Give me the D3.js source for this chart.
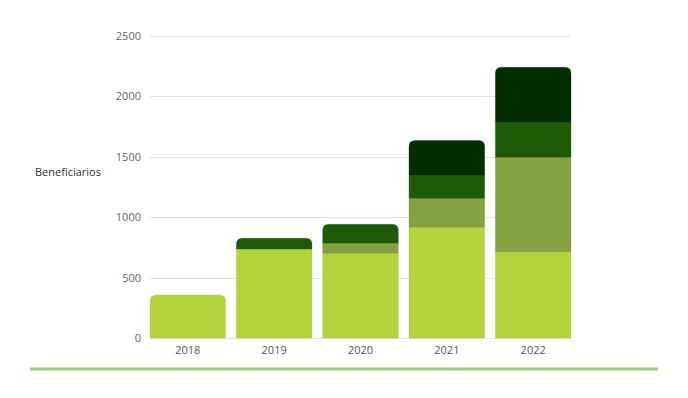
<!DOCTYPE html>
<html><head><meta charset="utf-8">
<script src="https://cdn.jsdelivr.net/npm/d3@7"></script>
<style>body{margin:0;background:#fff}svg{display:block}</style>
</head><body><svg id="c" width="688" height="398"></svg>
<script>
const years = ["2018","2019","2020","2021","2022"];
const serie1 = [356, 737, 701, 916, 714];
const serie2 = [0, 0, 84, 240, 782];
const serie3 = [0, 88, 157, 193, 292];
const serie4 = [0, 0, 0, 285, 453];
const yTicks = [0, 500, 1000, 1500, 2000, 2500];
const colors = ["#b4d33c", "#86a142", "#1f5b06", "#022e00"];
const yLabel = "Beneficiarios";

const svg = d3.select("#c");
const font = "'Open Sans', Lato, sans-serif";
const x = d3.scaleBand().domain(years).range([150, 571]).paddingInner(0.124).paddingOuter(0);
const y = d3.scaleLinear().domain([0, 2500]).range([338, 36]);

// grid
svg.append("g").selectAll("line").data(yTicks).join("line")
  .attr("x1", 150).attr("x2", 571)
  .attr("y1", d => Math.round(y(d)) + 0.5).attr("y2", d => Math.round(y(d)) + 0.5)
  .attr("stroke", "#e3e3e3").attr("stroke-width", 1);

// y axis labels
const yAxis = d3.axisLeft(y).tickValues(yTicks).tickFormat(d3.format("d")).tickSize(0).tickPadding(9);
const ga = svg.append("g").attr("transform", "translate(150,0)").call(yAxis);
ga.select(".domain").remove();
ga.selectAll("text").attr("font-family", font).attr("font-size", 11).attr("fill", "#666");

// x axis labels
const xAxis = d3.axisBottom(x).tickSize(0).tickPadding(8);
const gx = svg.append("g").attr("transform", "translate(0,338)").call(xAxis);
gx.select(".domain").remove();
gx.selectAll("text").attr("font-family", font).attr("font-size", 11).attr("fill", "#555");

// stacks
const data = years.map((yr, i) => ({year: yr, s0: serie1[i], s1: serie2[i], s2: serie3[i], s3: serie4[i]}));
const keys = ["s0","s1","s2","s3"];
const stacked = d3.stack().keys(keys)(data);
const r = 6;
function seg(x0, w, yTop, yBot, rounded) {
  if (!rounded) return `M${x0},${yBot}V${yTop}H${x0+w}V${yBot}Z`;
  const rr = Math.min(r, (yBot - yTop));
  return `M${x0},${yBot}V${yTop+rr}Q${x0},${yTop} ${x0+rr},${yTop}H${x0+w-rr}Q${x0+w},${yTop} ${x0+w},${yTop+rr}V${yBot}Z`;
}
stacked.forEach((layer, li) => {
  svg.append("g").selectAll("path").data(layer.filter(d => d[1] - d[0] > 0)).join("path")
    .attr("d", d => {
      let topIdx = 0;
      keys.forEach((k, ki) => { if (d.data[k] > 0) topIdx = ki; });
      return seg(x(d.data.year), x.bandwidth(), y(d[1]), y(d[0]), li === topIdx);
    })
    .attr("fill", colors[li])
    .attr("stroke", d3.color(colors[li]).darker(0.3))
    .attr("stroke-width", 0.6)
    .attr("stroke-opacity", 0.5);
});

// y label
svg.append("text").attr("x", 35).attr("y", 176).attr("font-family", font)
  .attr("font-size", 11).attr("fill", "#333").text(yLabel);

// bottom line
svg.append("line").attr("x1", 30).attr("x2", 658).attr("y1", 369).attr("y2", 369)
  .attr("stroke", "#93d46f").attr("stroke-width", 3);
</script></body></html>
